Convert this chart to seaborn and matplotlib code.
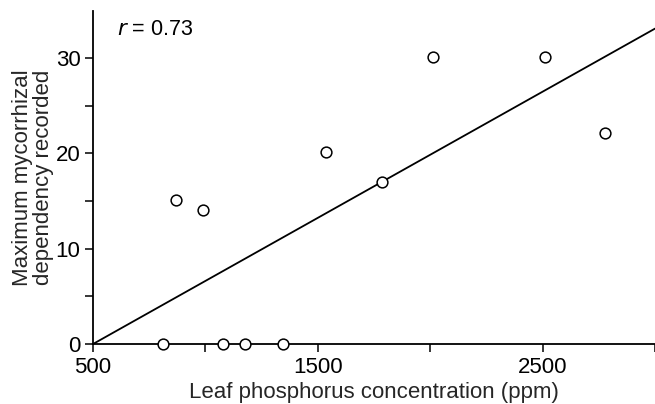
import matplotlib
matplotlib.use("Agg")
import matplotlib.pyplot as plt
import seaborn as sns
import pandas as pd

# Data
leaf_p = [811, 1078, 1176, 1344, 869, 989, 1536, 1784, 2011, 2509, 2776]
dependency = [0, 0, 0, 0, 15.1, 14.1, 20.1, 17.0, 30.1, 30.1, 22.1]
fit_x = [500, 3000]
fit_y = [0, 33.1]
x_ticks = [500, 1000, 1500, 2000, 2500, 3000]
x_labels = ["500", "", "1500", "", "2500", ""]
y_ticks = [0, 5, 10, 15, 20, 25, 30]
y_labels = ["0", "", "10", "", "20", "", "30"]
r_value = "0.73"

sns.set_style("ticks")
plt.rcParams["font.family"] = ["Liberation Sans", "DejaVu Sans"]

df = pd.DataFrame({"p": leaf_p, "d": dependency})
fit = pd.DataFrame({"x": fit_x, "y": fit_y})

fig = plt.figure(figsize=(6.55, 4.04), dpi=100)
ax = fig.add_axes([0.142, 0.1485, 0.858, 0.8255])

sns.lineplot(data=fit, x="x", y="y", ax=ax, color="black", linewidth=1.3, zorder=2)
sns.scatterplot(data=df, x="p", y="d", ax=ax, marker="o", s=60,
                facecolor="white", edgecolor="black", linewidth=1.1,
                zorder=3, clip_on=False)

ax.set_xlim(500, 3000)
ax.set_ylim(0, 35)
ax.set_xticks(x_ticks)
ax.set_xticklabels(x_labels)
ax.set_yticks(y_ticks)
ax.set_yticklabels(y_labels)
ax.tick_params(axis="both", direction="out", length=6, width=1.1,
               labelsize=16, color="black", labelcolor="black", pad=3)

for s in ["top", "right"]:
    ax.spines[s].set_visible(False)
for s in ["left", "bottom"]:
    ax.spines[s].set_color("black")
    ax.spines[s].set_linewidth(1.3)

ax.set_xlabel("Leaf phosphorus concentration (ppm)", fontsize=16, labelpad=3)
ax.set_ylabel("Maximum mycorrhizal\ndependency recorded", fontsize=16,
              labelpad=1, linespacing=1.0)

ax.text(607, 33, r"$\mathit{r}$" + " = " + r_value, fontsize=15.5,
        ha="left", va="center", color="black")

fig.savefig("out.png", dpi=100)
